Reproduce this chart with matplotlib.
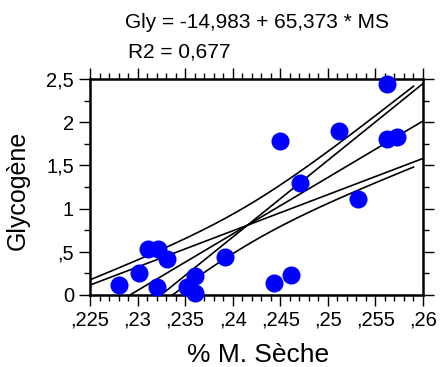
import numpy as np
import matplotlib
matplotlib.use("Agg")
import matplotlib.pyplot as plt
from matplotlib.ticker import MultipleLocator, FixedLocator

plt.rcParams['font.family'] = ['Liberation Sans', 'DejaVu Sans']

# Dry-matter fraction and glycogen content of each sample
ms = [0.2281, 0.2301, 0.2311, 0.2321, 0.2331, 0.2320, 0.2352, 0.2360, 0.2360,
      0.2392, 0.2443, 0.2461, 0.2450, 0.2471, 0.2512, 0.2532, 0.2562, 0.2562, 0.2573]
gly = [0.112, 0.251, 0.529, 0.529, 0.417, 0.089, 0.089, 0.220, 0.019,
       0.436, 0.135, 0.231, 1.786, 1.292, 1.902, 1.115, 2.438, 1.809, 1.833]

# Fitted model shown in the title
intercept = -14.983
slope = 65.373
r2 = 0.677

x_ticks = [0.225, 0.23, 0.235, 0.24, 0.245, 0.25, 0.255, 0.26]
x_labels = [',225', ',23', ',235', ',24', ',245', ',25', ',255', ',26']
y_ticks = [0, 0.5, 1, 1.5, 2, 2.5]
y_labels = ['0', ',5', '1', '1,5', '2', '2,5']

# Statistics for the 95 % limits
x = np.asarray(ms)
y = np.asarray(gly)
n = len(x)
x_mean = x.mean()
sxx = ((x - x_mean) ** 2).sum()
resid = y - (intercept + slope * x)
s = np.sqrt((resid ** 2).sum() / (n - 2))
t = 2.110  # Student t, 17 df, 95 %
se_b = s / np.sqrt(sxx)

fig = plt.figure(figsize=(4.44, 3.67), dpi=100)
ax = fig.add_axes([90 / 444, 72 / 367, 333 / 444, 216 / 367])

xx = np.linspace(0.225, 0.26, 400)
y_hat = intercept + slope * xx
y_at_mean = intercept + slope * x_mean

# Regression line
ax.plot(xx, y_hat, color='black', lw=1.2)
# Lines through the mean point with slope at its 95 % limits
for sl in (slope - t * se_b, slope + t * se_b):
    ax.plot(xx, y_at_mean + sl * (xx - x_mean), color='black', lw=1.2)
# 95 % confidence band of the mean response
xb = np.linspace(0.225, 0.259, 400)
half = t * s * np.sqrt(1 / n + (xb - x_mean) ** 2 / sxx)
yb = intercept + slope * xb
ax.plot(xb, yb + half, color='black', lw=1.2)
ax.plot(xb, yb - half, color='black', lw=1.2)

ax.plot(ms, gly, 'o', color='#0000ff', markersize=13, markeredgewidth=0,
        clip_on=False, zorder=5)

ax.set_xlim(0.225, 0.26)
ax.set_ylim(0, 2.5)
ax.xaxis.set_major_locator(FixedLocator(x_ticks))
ax.set_xticklabels(x_labels)
ax.xaxis.set_minor_locator(MultipleLocator(0.001))
ax.yaxis.set_major_locator(FixedLocator(y_ticks))
ax.set_yticklabels(y_labels)
ax.yaxis.set_minor_locator(MultipleLocator(0.25))
ax.tick_params(which='both', direction='out', top=True, right=True,
               labelsize=14.5, width=1, color='black')
ax.tick_params(which='major', length=8)
ax.tick_params(which='minor', length=4)
for sp in ax.spines.values():
    sp.set_linewidth(1.8)

ax.set_xlabel('% M. Sèche', fontsize=19)
ax.xaxis.set_label_coords(168 / 333, -(343 - 295) / 216)
ax.set_ylabel('Glycogène', fontsize=18)
ax.yaxis.set_label_coords(-(90 - 30) / 333, (295 - 190) / 216)

fig.text(257 / 444, 1 - 22 / 367, 'Gly = -14,983 + 65,373 * MS',
         ha='center', va='center', fontsize=15)
fig.text(179 / 444, 1 - 52 / 367, 'R2 = 0,677',
         ha='center', va='center', fontsize=15)

fig.savefig('out.png', dpi=100)
